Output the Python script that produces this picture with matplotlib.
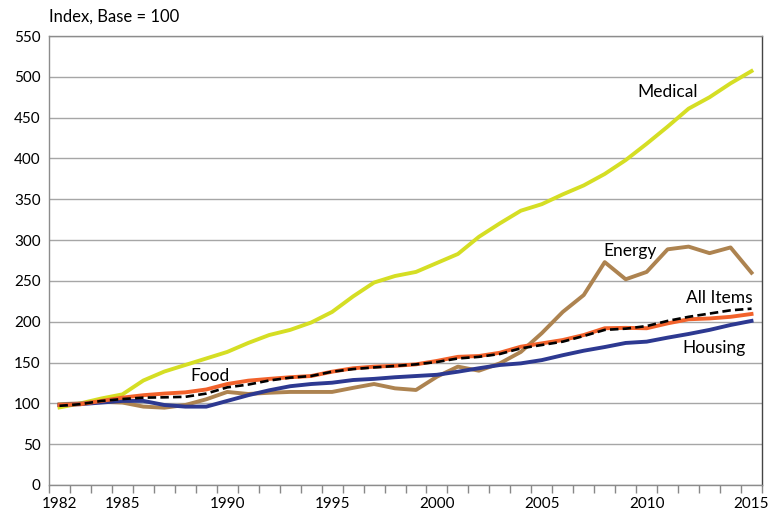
import matplotlib
matplotlib.use("Agg")
import matplotlib.pyplot as plt
import numpy as np

years = list(range(1982, 2016))
medical = [95, 100, 106, 111, 128, 139, 147, 155, 163, 174, 183.7, 190, 199, 212, 231, 248,
           256, 261, 272, 283, 304, 320.5, 336, 344, 356, 367, 381, 398, 418, 439, 461, 475, 492, 507]
energy = [99, 100, 102, 101, 96, 94.7, 98, 105, 114, 111.5, 113, 114, 114, 114, 119, 123.7,
          118.4, 116.4, 132.7, 145, 140, 149, 163, 186, 212, 232.7, 273, 252, 261, 288.7, 292, 284, 291, 260]
housing = [98, 99, 101, 103, 103, 98, 96, 96, 103, 110, 116, 121, 123.7, 125.3, 128.6, 130,
           132, 133.5, 135, 138.8, 143, 147, 149, 153, 159, 164.5, 169, 174, 175.6, 180.5, 185, 190, 196, 201]
food = [98, 99, 103, 107, 110, 112, 113.5, 117, 123.7, 127.8, 130, 132, 133.5, 138.8, 143, 145,
        146, 147.8, 152, 157, 158, 162, 169.4, 173.5, 177.6, 183.7, 192, 192.5, 192, 198, 203, 204, 206, 209.5]
all_items = [97, 99, 103, 105.3, 107, 107.4, 108, 112, 119.6, 123, 128, 131.5, 133.5, 138.8, 142, 144,
             145.8, 147.8, 150.7, 155, 157, 160.5, 167.4, 171.5, 175.6, 182.5, 190, 191.5, 194.7, 201, 206, 210, 214, 216]
xtick_years = [1982, 1985, 1990, 1995, 2000, 2005, 2010, 2015]
yticks = list(range(0, 551, 50))

plt.rcParams['font.family'] = ['Lato', 'DejaVu Sans']

fig = plt.figure(figsize=(7.82, 5.16), dpi=100)
ax = fig.add_axes([49/782, 1-485/516, (762-49)/782, (485-36)/516])

lw = 2.8
ax.plot(years, medical, color='#D5DE24', lw=lw, solid_joinstyle='round', zorder=3)
ax.plot(years, energy, color='#AD8350', lw=lw, solid_joinstyle='round', zorder=3)
ax.plot(years, housing, color='#2D3991', lw=lw, solid_joinstyle='round', zorder=3)
ax.plot(years, food, color='#F2622B', lw=lw, solid_joinstyle='round', zorder=4)
ax.plot(years, all_items, color='black', lw=1.9, ls=(0, (3.2, 1.6)), zorder=5)

ax.set_xlim(years[0] - 0.5, years[-1] + 0.5)
ax.set_ylim(0, 550)
ax.set_yticks(yticks)
ax.set_yticklabels([str(v) for v in yticks], fontsize=11)
ax.tick_params(axis='y', length=0, pad=6)

ax.set_xticks(xtick_years)
ax.set_xticklabels([str(y) for y in xtick_years], fontsize=11)
ax.set_xticks(np.arange(years[0] - 0.5, years[-1] + 1.0, 1.0), minor=True)
ax.tick_params(axis='x', which='major', length=0, pad=9)
ax.tick_params(axis='x', which='minor', length=6, direction='out', color='#888888', width=1)

ax.grid(axis='y', color='#A6A6A6', lw=1.0, zorder=0)
ax.set_axisbelow(True)
for s in ['left', 'bottom', 'top']:
    ax.spines[s].set_color('#8C8C8C')
    ax.spines[s].set_linewidth(1.0)
ax.spines['right'].set_color('#444444')
ax.spines['right'].set_linewidth(1.0)

tfs = 12.5
ax.text(2011.0, 481, 'Medical', fontsize=tfs, ha='center', va='center')
ax.text(2009.2, 287, 'Energy', fontsize=tfs, ha='center', va='center')
ax.text(2013.45, 229, 'All Items', fontsize=tfs, ha='center', va='center')
ax.text(2013.2, 168, 'Housing', fontsize=tfs, ha='center', va='center')
ax.text(1989.2, 133.5, 'Food', fontsize=tfs, ha='center', va='center')

fig.text(49/782, 1-17/516, 'Index, Base = 100', fontsize=12, ha='left', va='center')

fig.savefig('out.png', dpi=100)
